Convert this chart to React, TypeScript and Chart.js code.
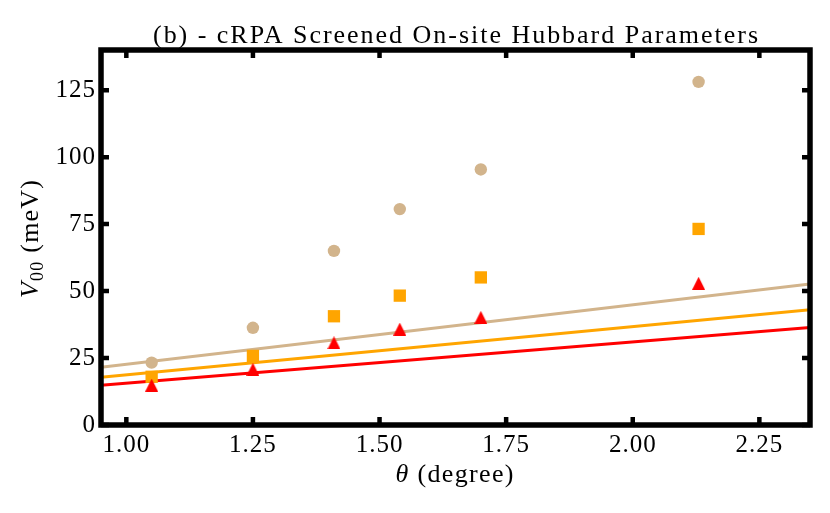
import React, { useEffect, useRef } from "react";
import { Chart, registerables } from "chart.js";

Chart.register(...registerables);

// ---- data ----
const theta = [1.05, 1.25, 1.41, 1.54, 1.7, 2.13];
const vTan = [23.3, 36.3, 65.0, 80.6, 95.4, 128.1];
const vOrange = [18.0, 25.8, 40.6, 48.3, 55.1, 73.2];
const vRed = [14.9, 20.8, 30.7, 35.8, 40.2, 52.9];

const fitTheta = [0.95, 2.35];
const fitTan = [21.6, 52.6];
const fitOrange = [17.8, 43.0];
const fitRed = [14.8, 36.4];

const xTickValues = [1.0, 1.25, 1.5, 1.75, 2.0, 2.25];
const yTickValues = [0, 25, 50, 75, 100, 125];

const titleText = "(b) - cRPA Screened On-site Hubbard Parameters";

const TAN = "#D2B48C";
const ORANGE = "#FFA500";
const RED = "#FF0000";
const SERIF = "'Liberation Serif', 'Times New Roman', serif";

const pts = (xs: number[], ys: number[]) => xs.map((x, i) => ({ x, y: ys[i] }));

type Part = { t: string; font: string; dy?: number };

// draw a run of text parts starting at x, spacing letters so the whole run spans `width`
function drawRun(ctx: any, parts: Part[], x: number, y: number, width: number) {
  ctx.letterSpacing = "0px";
  let w0 = 0;
  let n = 0;
  parts.forEach((p) => {
    ctx.font = p.font;
    w0 += ctx.measureText(p.t).width;
    n += [...p.t].length;
  });
  const s = Math.max(0, (width - w0) / Math.max(1, n - 1));
  ctx.letterSpacing = `${s}px`;
  let cx = x;
  parts.forEach((p) => {
    ctx.font = p.font;
    ctx.fillText(p.t, cx, y + (p.dy || 0));
    cx += ctx.measureText(p.t).width;
  });
  ctx.letterSpacing = "0px";
}

const framePlugin = {
  id: "frame",
  beforeDraw(chart: any) {
    chart.ctx.letterSpacing = "1px";
  },
  afterDraw(chart: any) {
    const { ctx, chartArea, scales } = chart;
    const { left, right, top, bottom } = chartArea;
    const xs = scales.x;
    const ys = scales.y;
    ctx.save();
    ctx.letterSpacing = "0px";
    ctx.strokeStyle = "#000";
    ctx.lineCap = "butt";
    // inward ticks
    ctx.lineWidth = 4.5;
    const tl = 8;
    ctx.beginPath();
    xTickValues.forEach((v) => {
      const px = xs.getPixelForValue(v);
      ctx.moveTo(px, bottom);
      ctx.lineTo(px, bottom - tl);
      ctx.moveTo(px, top);
      ctx.lineTo(px, top + tl);
    });
    yTickValues.forEach((v) => {
      const py = ys.getPixelForValue(v);
      ctx.moveTo(left, py);
      ctx.lineTo(left + tl, py);
      ctx.moveTo(right, py);
      ctx.lineTo(right - tl, py);
    });
    ctx.stroke();
    // frame
    ctx.lineWidth = 5.5;
    ctx.lineJoin = "miter";
    ctx.strokeRect(left, top, right - left, bottom - top);

    ctx.fillStyle = "#000";
    ctx.textAlign = "left";
    ctx.textBaseline = "alphabetic";
    const cx = (left + right) / 2;

    // title
    const titleW = 605;
    drawRun(ctx, [{ t: titleText, font: `26px ${SERIF}` }], cx - titleW / 2, 43, titleW);

    // x label: θ (degree)
    const xlW = 118;
    drawRun(
      ctx,
      [
        { t: "θ", font: `italic 26px ${SERIF}` },
        { t: " (degree)", font: `26px ${SERIF}` },
      ],
      cx - xlW / 2 - 1,
      482,
      xlW
    );

    // y label: V_00 (meV), rotated
    ctx.save();
    ctx.translate(38, 239);
    ctx.rotate(-Math.PI / 2);
    const ylW = 118;
    drawRun(
      ctx,
      [
        { t: "V", font: `italic 26px ${SERIF}` },
        { t: "00", font: `18px ${SERIF}`, dy: 5 },
        { t: " (meV)", font: `26px ${SERIF}` },
      ],
      -ylW / 2,
      0,
      ylW
    );
    ctx.restore();

    ctx.restore();
  },
};

function makeTriangle(color: string, size: number) {
  const c = document.createElement("canvas");
  c.width = size;
  c.height = size;
  const g = c.getContext("2d")!;
  g.fillStyle = color;
  g.beginPath();
  g.moveTo(size / 2, 0);
  g.lineTo(size, size);
  g.lineTo(0, size);
  g.closePath();
  g.fill();
  return c;
}

export default function App() {
  const ref = useRef<HTMLCanvasElement | null>(null);

  useEffect(() => {
    document.body.style.margin = "0";
    const canvas = ref.current;
    if (!canvas) return;
    Chart.defaults.font.family = SERIF;
    const tri = makeTriangle(RED, 13);

    const chart = new Chart(canvas, {
      type: "scatter",
      data: {
        datasets: [
          {
            label: "red",
            data: pts(theta, vRed),
            pointStyle: tri as any,
            pointRadius: 6.5,
            backgroundColor: RED,
            borderWidth: 0,
            showLine: false,
          },
          {
            label: "orange",
            data: pts(theta, vOrange),
            pointStyle: "rect",
            pointRadius: 8.7,
            backgroundColor: ORANGE,
            borderColor: ORANGE,
            borderWidth: 0,
            showLine: false,
          },
          {
            label: "tan",
            data: pts(theta, vTan),
            pointStyle: "circle",
            pointRadius: 6.2,
            backgroundColor: TAN,
            borderColor: TAN,
            borderWidth: 0,
            showLine: false,
          },
          {
            label: "fit tan",
            data: pts(fitTheta, fitTan),
            showLine: true,
            borderColor: TAN,
            borderWidth: 3,
            pointRadius: 0,
          },
          {
            label: "fit orange",
            data: pts(fitTheta, fitOrange),
            showLine: true,
            borderColor: ORANGE,
            borderWidth: 3,
            pointRadius: 0,
          },
          {
            label: "fit red",
            data: pts(fitTheta, fitRed),
            showLine: true,
            borderColor: RED,
            borderWidth: 3,
            pointRadius: 0,
          },
        ],
      },
      options: {
        responsive: false,
        animation: false,
        devicePixelRatio: window.devicePixelRatio || 1,
        layout: { padding: { top: 50, right: 20, left: 0, bottom: 0 } },
        plugins: {
          legend: { display: false },
          tooltip: { enabled: false },
          title: { display: false },
        },
        scales: {
          x: {
            type: "linear",
            min: 0.95,
            max: 2.35,
            afterBuildTicks: (s: any) => {
              s.ticks = xTickValues.map((v) => ({ value: v }));
            },
            afterFit: (s: any) => {
              s.height = 88;
            },
            grid: { display: false, drawTicks: false },
            border: { display: false },
            ticks: {
              color: "#000",
              font: { size: 25, family: SERIF },
              padding: 5,
              maxRotation: 0,
              autoSkip: false,
              callback: (v: any) => Number(v).toFixed(2),
            },
          },
          y: {
            type: "linear",
            min: 0,
            max: 140,
            afterBuildTicks: (s: any) => {
              s.ticks = yTickValues.map((v) => ({ value: v }));
            },
            afterFit: (s: any) => {
              s.width = 101;
            },
            grid: { display: false, drawTicks: false },
            border: { display: false },
            ticks: {
              color: "#000",
              font: { size: 25, family: SERIF },
              padding: 5,
              autoSkip: false,
              callback: (v: any) => String(v),
            },
          },
        },
      },
      plugins: [framePlugin],
    });
    return () => chart.destroy();
  }, []);

  return (
    <div style={{ position: "absolute", left: 0, top: 0, width: 830, height: 513 }}>
      <canvas ref={ref} width={830} height={513} style={{ width: 830, height: 513 }} />
    </div>
  );
}
